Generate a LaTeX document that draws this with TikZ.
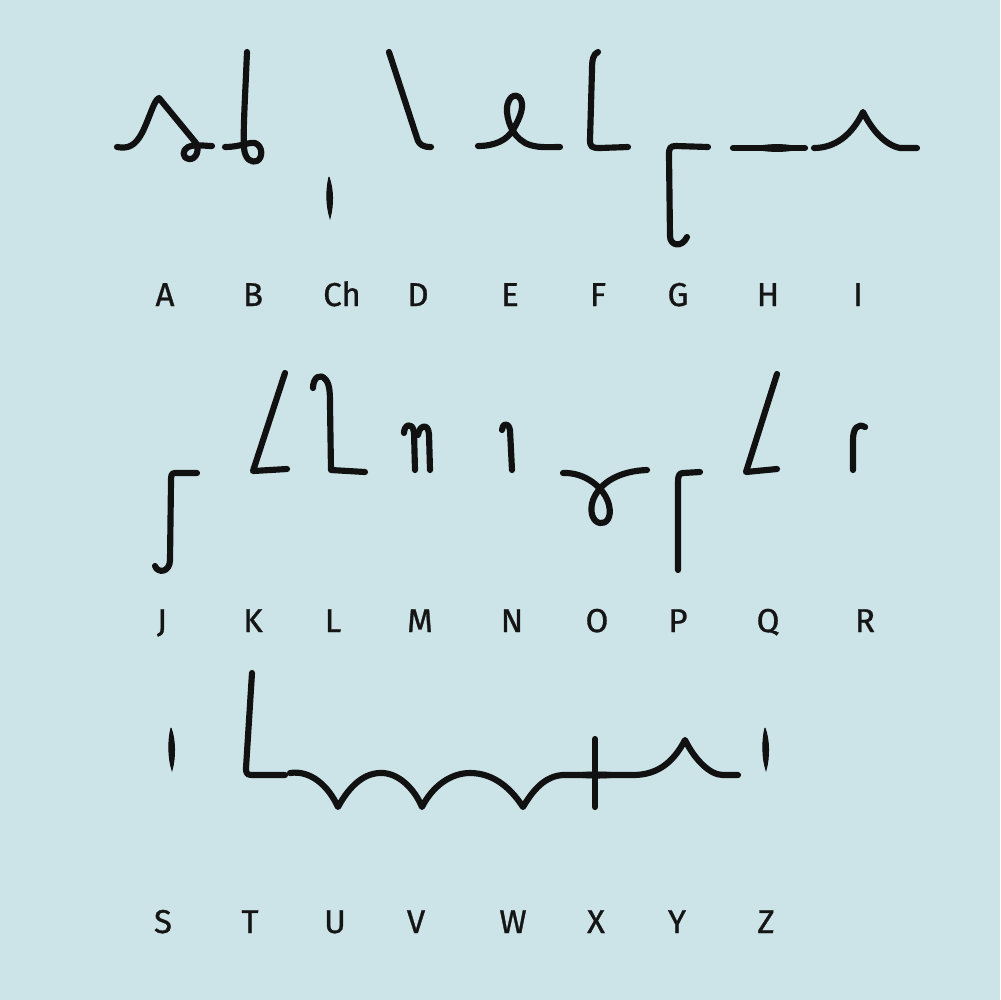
\documentclass[tikz,border=0pt]{standalone}
\usepackage{fontspec}
\newfontfamily\labelfont{Fira Sans}[FakeBold=0.9]
\usepackage{xcolor}
\definecolor{paleBlue}{HTML}{CCE4E8}
\definecolor{inkBlack}{HTML}{111111}
\definecolor{labelGray}{HTML}{151515}
\usepackage{tikz}
\tikzset{
    % Pen stroke used for every glyph
    glyph/.style={
        draw=inkBlack,
        line width=1.75pt,
        line cap=round,
        line join=round,
    },
    % Short marks that swell in the middle
    swell/.style={
        fill=inkBlack,
        draw=inkBlack,
        line width=0.3pt,
    },
    % Latin letter under each glyph
    letter/.style={
        font=\labelfont\fontsize{9.4}{11}\selectfont,
        text=labelGray,
        anchor=base,
        inner sep=0pt,
    },
}

\begin{document}
\begin{tikzpicture}[x=0.1mm, y=-0.1mm]
    \fill[paleBlue] (0,0) rectangle (1000,1000);

    % first row: A to I
    \draw[glyph] (117,147) .. controls (128,149) and (135,146) .. (142,133) .. controls (150,117) and (154,100) .. (159,98) -- (196,143) .. controls (200,150) and (196,160) .. (189,159) .. controls (182,158) and (182,150) .. (188,147) .. controls (195,144) and (205,146) .. (212,146);
    \draw[glyph] (247,52) .. controls (245,100) and (243,130) .. (244,148) .. controls (245,160) and (252,163) .. (257,161) .. controls (263,158) and (263,146) .. (255,143) .. controls (248,142) and (240,147) .. (225,147);
    \fill[swell] (329,177) .. controls (333.5,190) and (333.5,205) .. (330,218) .. controls (326,205) and (326,190) .. (329,177);
    \draw[glyph] (389,52) -- (417,138) .. controls (419,145) and (423,147) .. (431,147);
    \draw[glyph] (478,146) .. controls (495,146) and (507,140) .. (513,130) .. controls (520,118) and (526,104) .. (519,97) .. controls (512,92) and (506,102) .. (507,112) .. controls (508,125) and (515,140) .. (530,145) .. controls (540,148) and (550,147) .. (560,147);
    \draw[glyph] (598,52) .. controls (593,54) and (592,60) .. (592,70) -- (590,140) .. controls (590,147) and (592,148) .. (600,148) -- (628,147);
    \draw[glyph] (708,147) -- (676,146) .. controls (670,146) and (669,148) .. (669,155) -- (670,236) .. controls (670,246) and (682,248) .. (687,237);
    \draw[glyph] (733,148) -- (805,148);
    \fill[swell] (752,148) .. controls (765,143.5) and (790,143.5) .. (800,148) .. controls (790,152.5) and (765,152.5) .. (752,148);
    \draw[glyph] (814,148) .. controls (835,148) and (852,135) .. (863,112) .. controls (872,130) and (885,145) .. (900,148) -- (917,148);

    \node (lblA) [letter] at (165,306) {A};
    \node (lblB) [letter] at (253,306) {B};
    \node (lblCh) [letter] at (342,306) {Ch};
    \node (lblD) [letter] at (418,306) {D};
    \node (lblE) [letter] at (510,306) {E};
    \node (lblF) [letter] at (598,306) {F};
    \node (lblG) [letter] at (678,306) {G};
    \node (lblH) [letter] at (768,306) {H};
    \node (lblI) [letter] at (858,306) {I};

    % second row: J to R
    \draw[glyph] (197,473) -- (175,473) .. controls (171,473) and (171,476) .. (171,482) -- (170,560) .. controls (170,572) and (158,574) .. (155,566);
    \draw[glyph] (285,373) -- (253,471) -- (287,469);
    \draw[glyph] (313,388) .. controls (313,378) and (320,372) .. (326,380) .. controls (330,385) and (330,395) .. (330,405) -- (331,470) -- (365,472);
    \draw[glyph] (404,433) .. controls (404,425) and (412,421) .. (414,432) -- (415,470);
    \draw[glyph] (418,435) .. controls (419,426) and (428,422) .. (429,434) -- (430,470);
    \draw[glyph] (502,430) .. controls (502,424) and (508,421) .. (510,430) -- (512,470);
    \draw[glyph] (563,473) .. controls (585,472) and (605,488) .. (609,505) .. controls (612,518) and (606,524) .. (600,523) .. controls (593,522) and (589,512) .. (593,500) .. controls (600,482) and (620,471) .. (647,470);
    \draw[glyph] (700,472) -- (683,473) .. controls (679,473) and (678,476) .. (678,482) -- (678,570);
    \draw[glyph] (777,374) -- (746,472) -- (777,469);
    \draw[glyph] (853,470) -- (853,440) .. controls (853,428) and (858,423) .. (865,427);

    \node (lblJ) [letter] at (162,632) {J};
    \node (lblK) [letter] at (253,632) {K};
    \node (lblL) [letter] at (333,632) {L};
    \node (lblM) [letter] at (420,632) {M};
    \node (lblN) [letter] at (512,632) {N};
    \node (lblO) [letter] at (597,632) {O};
    \node (lblP) [letter] at (678,632) {P};
    \node (lblQ) [letter] at (768,632) {Q};
    \node (lblR) [letter] at (865,632) {R};

    % third row: S to Z
    \fill[swell] (171,728) .. controls (175.5,740) and (175.5,758) .. (172,770) .. controls (168,758) and (168,740) .. (171,728);
    \draw[glyph] (252,673) -- (246,768) .. controls (246,775) and (248,775) .. (254,775) -- (285,775);
    \draw[glyph] (290,773) .. controls (310,770) and (328,785) .. (338,807) .. controls (350,785) and (365,772) .. (383,773) .. controls (400,774) and (415,790) .. (422,807) .. controls (432,787) and (450,773) .. (470,773) .. controls (495,773) and (512,790) .. (523,807) .. controls (533,790) and (545,776) .. (563,775) -- (633,775) .. controls (655,775) and (672,765) .. (685,740) .. controls (695,760) and (710,775) .. (723,775) -- (738,775);
    \fill[swell] (568,775) .. controls (580,771) and (612,771) .. (628,775) .. controls (612,779) and (580,779) .. (568,775);
    \draw[glyph] (595,739) -- (595,807);
    \fill[swell] (765,728) .. controls (769.5,740) and (769.5,758) .. (766,770) .. controls (762,758) and (762,740) .. (765,728);

    \node (lblS) [letter] at (163,933) {S};
    \node (lblT) [letter] at (250,933) {T};
    \node (lblU) [letter] at (335,933) {U};
    \node (lblV) [letter] at (416,933) {V};
    \node (lblW) [letter] at (513,933) {W};
    \node (lblX) [letter] at (596,933) {X};
    \node (lblY) [letter] at (677,933) {Y};
    \node (lblZ) [letter] at (766,933) {Z};
\end{tikzpicture}
\end{document}
